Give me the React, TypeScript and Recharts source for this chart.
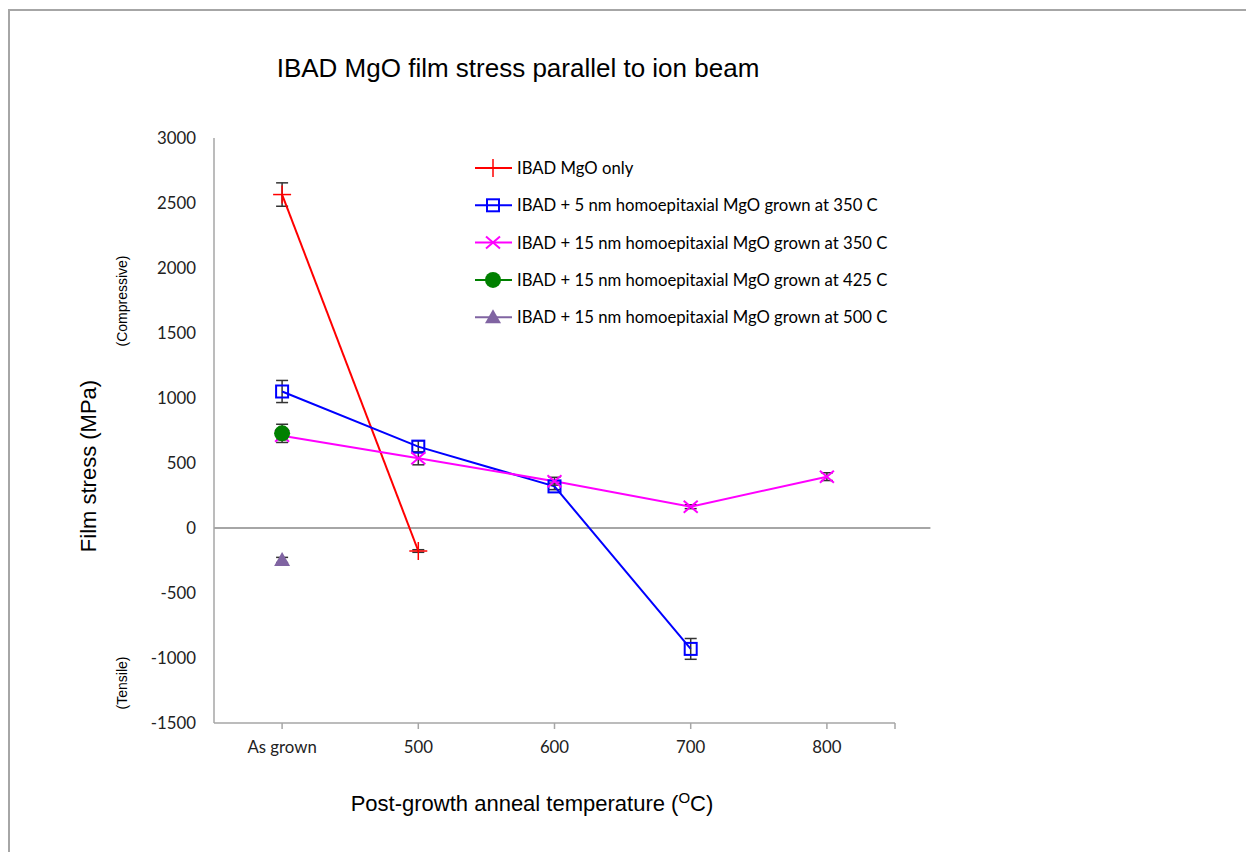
import {
  ComposedChart,
  Line,
  XAxis,
  YAxis,
  ErrorBar,
  ReferenceLine,
  Customized,
} from 'recharts';

const categories = ['As grown', '500', '600', '700', '800'];
const yTicks = [-1500, -1000, -500, 0, 500, 1000, 1500, 2000, 2500, 3000];

// values per category index (null = not measured)
const mgoOnly = [2565, -177, null, null, null];
const mgoOnlyErr = [90, 10, 0, 0, 0];
const homo5nm350 = [1050, 626, 320, -930, null];
const homo5nm350Err = [85, 45, 25, 80, 0];
const homo15nm350 = [710, 536, 360, 164, 395];
const homo15nm350Err = [30, 50, 30, 15, 30];
const homo15nm425 = [728, null, null, null, null];
const homo15nm425Err = [70, 0, 0, 0, 0];
const homo15nm500 = [-246, null, null, null, null];
const homo15nm500Err = [20, 0, 0, 0, 0];

const legendNames = [
  'IBAD MgO only',
  'IBAD + 5 nm homoepitaxial MgO grown at 350 C',
  'IBAD + 15 nm homoepitaxial MgO grown at 350 C',
  'IBAD + 15 nm homoepitaxial MgO grown at 425 C',
  'IBAD + 15 nm homoepitaxial MgO grown at 500 C',
];

const toPoints = (vals: (number | null)[], errs: number[]) =>
  vals
    .map((v, i) => (v === null ? null : { x: i, y: v, e: errs[i] }))
    .filter((p) => p !== null);

const AXIS = '#a6a6a6';
const TICK_FONT = 'Lato, "Open Sans", sans-serif';
const ARIAL = '"Liberation Sans", Arial, sans-serif';

function Marker({ kind, cx, cy }: { kind: number; cx: number; cy: number }) {
  switch (kind) {
    case 0:
      return (
        <g stroke="#ff0000" strokeWidth={1.5}>
          <line x1={cx - 9} y1={cy} x2={cx + 9} y2={cy} />
          <line x1={cx} y1={cy - 9} x2={cx} y2={cy + 9} />
        </g>
      );
    case 1:
      return <rect x={cx - 6} y={cy - 6} width={12} height={12} fill="none" stroke="#0000ff" strokeWidth={2} />;
    case 2:
      return (
        <g stroke="#ff00ff" strokeWidth={2}>
          <line x1={cx - 7} y1={cy - 6} x2={cx + 7} y2={cy + 6} />
          <line x1={cx - 7} y1={cy + 6} x2={cx + 7} y2={cy - 6} />
        </g>
      );
    case 3:
      return <circle cx={cx} cy={cy} r={8} fill="#008000" />;
    default:
      return <polygon points={`${cx},${cy - 8} ${cx + 8},${cy + 6} ${cx - 8},${cy + 6}`} fill="#8064a2" />;
  }
}

const colors = ['#ff0000', '#0000ff', '#ff00ff', '#008000', '#8064a2'];

function Annotations() {
  return (
    <g>
      <text x={518} y={77} textAnchor="middle" fontFamily={ARIAL} fontSize={26} fill="#000">
        IBAD MgO film stress parallel to ion beam
      </text>
      <text x={532} y={811} textAnchor="middle" fontFamily={ARIAL} fontSize={22} fill="#000">
        Post-growth anneal temperature (<tspan fontSize={15} dy={-8}>O</tspan>
        <tspan dy={8}>C)</tspan>
      </text>
      <text
        transform="translate(96,466) rotate(-90)"
        textAnchor="middle"
        fontFamily={ARIAL}
        fontSize={22}
        fill="#000"
      >
        Film stress (MPa)
      </text>
      <text transform="translate(127,301) rotate(-90)" textAnchor="middle" fontFamily={ARIAL} fontSize={14} fill="#000">
        (Compressive)
      </text>
      <text transform="translate(127,683) rotate(-90)" textAnchor="middle" fontFamily={ARIAL} fontSize={14} fill="#000">
        (Tensile)
      </text>
      {legendNames.map((name, i) => {
        const y = 168 + i * 37.3;
        return (
          <g key={name}>
            <line x1={475} y1={y} x2={512} y2={y} stroke={colors[i]} strokeWidth={2} />
            <Marker kind={i} cx={493} cy={y} />
            <text x={517} y={y + 6} fontFamily={TICK_FONT} fontSize={16.7} fill="#000">
              {name}
            </text>
          </g>
        );
      })}
    </g>
  );
}

const series = [
  { pts: toPoints(mgoOnly, mgoOnlyErr), name: legendNames[0] },
  { pts: toPoints(homo5nm350, homo5nm350Err), name: legendNames[1] },
  { pts: toPoints(homo15nm350, homo15nm350Err), name: legendNames[2] },
  { pts: toPoints(homo15nm425, homo15nm425Err), name: legendNames[3] },
  { pts: toPoints(homo15nm500, homo15nm500Err), name: legendNames[4] },
];

export default function App() {
  return (
    <div style={{ position: 'absolute', left: 0, top: 0, width: 1246, height: 852, background: '#fff' }}>
      <div
        style={{
          position: 'absolute',
          left: 8,
          top: 9,
          right: 0,
          bottom: 0,
          borderLeft: `2px solid ${AXIS}`,
          borderTop: `2px solid ${AXIS}`,
        }}
      />
      <ComposedChart
        width={1246}
        height={852}
        margin={{ top: 138, right: 351, bottom: 89, left: 0 }}
        style={{ position: 'absolute', left: 0, top: 0 }}
      >
        <XAxis
          type="number"
          dataKey="x"
          domain={[-0.5, 4.5]}
          ticks={[0, 1, 2, 3, 4, 4.5]}
          tickFormatter={(v: number) => categories[v] ?? ''}
          allowDecimals
          stroke={AXIS}
          strokeWidth={1.5}
          tickSize={6}
          tickMargin={12}
          tick={{ fill: '#222', fontSize: 16.8, fontFamily: TICK_FONT }}
          height={40}
        />
        <YAxis
          type="number"
          domain={[-1500, 3000]}
          ticks={yTicks}
          interval={0}
          stroke={AXIS}
          strokeWidth={1.5}
          tickLine={false}
          tickSize={6}
          tickMargin={12}
          tick={{ fill: '#222', fontSize: 16.8, fontFamily: TICK_FONT }}
          width={214}
        />
        <ReferenceLine
          segment={[
            { x: -0.5, y: 0 },
            { x: 4.76, y: 0 },
          ]}
          ifOverflow="visible"
          stroke={AXIS}
          strokeWidth={2}
        />
        {series.map((s, i) => (
          <Line
            key={s.name}
            name={s.name}
            data={s.pts}
            dataKey="y"
            stroke={colors[i]}
            strokeWidth={2}
            isAnimationActive={false}
            dot={(p: any) => <Marker key={`${i}-${p.index}`} kind={i} cx={p.cx} cy={p.cy} />}
            activeDot={false}
          >
            <ErrorBar dataKey="e" direction="y" width={6} stroke="#333" strokeWidth={1.5} />
          </Line>
        ))}
        <Customized component={<Annotations />} />
      </ComposedChart>
    </div>
  );
}
